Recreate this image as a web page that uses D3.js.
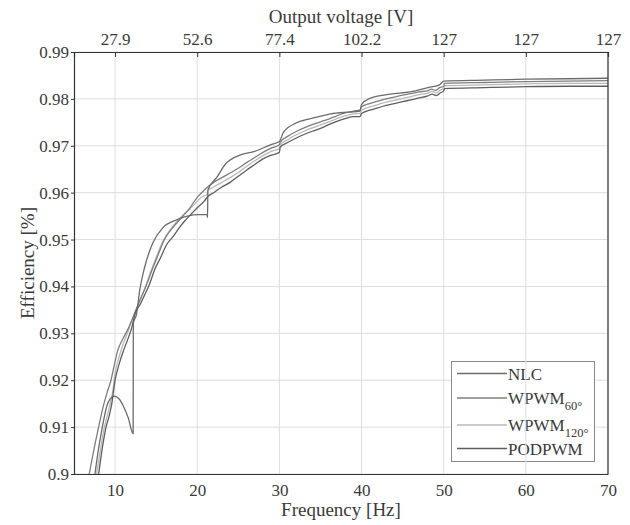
<!DOCTYPE html>
<html>
<head>
<meta charset="utf-8">
<script src="https://cdn.jsdelivr.net/npm/d3@7"></script>
<style>
    body { margin: 0; background: #fff; }
</style>
</head>
<body>
<svg id="chart" width="630" height="525"></svg>
<script>
const width = 630;
const height = 525;
const serif = '"Liberation Serif"';

// [frequency Hz, efficiency]
const nlc = [
    [7.55, 0.900], [8.0, 0.9055], [8.5, 0.9105], [9.0, 0.9145], [9.4, 0.9160], [9.9, 0.9166],
    [10.5, 0.9160], [11.0, 0.9145], [11.6, 0.9120], [12.2, 0.9086], [12.22, 0.9322], [12.6, 0.9340],
    [13.0, 0.9392], [13.6, 0.9441], [14.6, 0.9493], [15.8, 0.9525], [17.5, 0.9542], [18.8, 0.9550],
    [20.1, 0.9553], [21.2, 0.9553], [21.25, 0.9547], [21.3, 0.9606], [22.4, 0.9633], [23.4, 0.9660],
    [25.2, 0.9680], [27.0, 0.9688], [28.9, 0.9702], [30.0, 0.9709], [30.5, 0.9729], [32.1, 0.9749],
    [34.6, 0.9761], [36.2, 0.9768], [38.6, 0.9772], [39.8, 0.9774], [40.0, 0.9788], [41.0, 0.9801],
    [43.5, 0.9810], [45.9, 0.9815], [48.3, 0.9825], [49.5, 0.9830], [50.0, 0.9838], [55.0, 0.9840],
    [60.0, 0.9842], [65.0, 0.9843], [70.0, 0.9844]
];
const wpwm60 = [
    [6.85, 0.900], [7.4, 0.905], [8.0, 0.910], [8.5, 0.9140], [9.0, 0.9172], [9.5, 0.9200],
    [10.0, 0.9240], [10.3, 0.9262], [11.0, 0.9290], [11.6, 0.9310], [12.2, 0.9335], [13.0, 0.9370],
    [13.8, 0.9402], [14.5, 0.9435], [15.3, 0.9470], [16.0, 0.9500], [17.0, 0.9525], [18.0, 0.9545],
    [19.0, 0.9565], [20.0, 0.9590], [21.0, 0.9608], [22.0, 0.9622], [23.0, 0.9632], [24.0, 0.9642],
    [25.0, 0.9652], [26.0, 0.9664], [27.0, 0.9675], [28.0, 0.9686], [29.0, 0.9695], [30.0, 0.9702],
    [30.1, 0.9708], [31.0, 0.9720], [32.0, 0.9730], [33.0, 0.9738], [34.0, 0.9745], [35.0, 0.9751],
    [36.0, 0.9757], [37.0, 0.9764], [38.0, 0.9770], [39.0, 0.9774], [39.8, 0.9776], [40.0, 0.9783],
    [41.0, 0.9790], [42.0, 0.9795], [43.0, 0.9800], [44.0, 0.9804], [45.0, 0.9808], [46.0, 0.9811],
    [47.0, 0.9815], [48.0, 0.9817], [48.5, 0.9821], [49.0, 0.9818], [49.5, 0.9824], [50.0, 0.9827],
    [50.1, 0.9833], [55.0, 0.9835], [60.0, 0.9837], [65.0, 0.9838], [70.0, 0.9839]
];
const wpwm120 = [
    [7.75, 0.900], [8.2, 0.905], [8.7, 0.910], [9.2, 0.9135], [9.7, 0.9175], [10.0, 0.9215],
    [10.5, 0.9250], [11.0, 0.9278], [11.5, 0.9300], [12.0, 0.9325], [12.5, 0.9348], [13.0, 0.9368],
    [13.6, 0.9395], [14.2, 0.9425], [15.0, 0.9462], [15.8, 0.9495], [16.6, 0.9518], [17.5, 0.9538],
    [18.5, 0.9556], [19.5, 0.9572], [20.5, 0.9590], [21.2, 0.9597], [21.3, 0.9604], [22.0, 0.9612],
    [23.0, 0.9622], [24.0, 0.9632], [25.0, 0.9643], [26.0, 0.9656], [27.0, 0.9668], [28.0, 0.9679],
    [29.0, 0.9688], [30.0, 0.9694], [30.1, 0.9702], [31.0, 0.9713], [32.0, 0.9723], [33.0, 0.9731],
    [34.0, 0.9738], [35.0, 0.9744], [36.0, 0.9751], [37.0, 0.9758], [38.0, 0.9764], [39.0, 0.9768],
    [39.8, 0.9769], [40.0, 0.9776], [41.0, 0.9783], [42.0, 0.9788], [43.0, 0.9793], [44.0, 0.9797],
    [45.0, 0.9801], [46.0, 0.9805], [47.0, 0.9809], [48.0, 0.9812], [48.6, 0.9816], [49.1, 0.9813],
    [49.6, 0.9819], [50.0, 0.9822], [50.1, 0.9828], [55.0, 0.9830], [60.0, 0.9832], [65.0, 0.9833],
    [70.0, 0.9833]
];
const podpwm = [
    [8.0, 0.900], [8.4, 0.905], [8.9, 0.910], [9.3, 0.9125], [9.6, 0.9150], [10.0, 0.9200],
    [10.5, 0.9235], [11.0, 0.9262], [11.5, 0.9285], [12.0, 0.9310], [12.5, 0.9345], [13.0, 0.9360],
    [13.5, 0.9378], [14.2, 0.9405], [14.8, 0.9435], [15.5, 0.9460], [16.3, 0.9490], [17.0, 0.9505],
    [17.8, 0.9525], [18.5, 0.9540], [19.3, 0.9555], [20.0, 0.9568], [20.8, 0.9581], [21.3, 0.9592],
    [22.0, 0.9600], [23.0, 0.9612], [24.0, 0.9622], [25.0, 0.9635], [26.0, 0.9648],
    [27.0, 0.9660], [28.0, 0.9672], [29.0, 0.9680], [30.0, 0.9686], [30.1, 0.9697], [31.0, 0.9707],
    [32.0, 0.9716], [33.0, 0.9724], [34.0, 0.9731], [35.0, 0.9737], [36.0, 0.9745], [37.0, 0.9752],
    [38.0, 0.9758], [39.0, 0.9762], [39.8, 0.9762], [40.0, 0.9769], [41.0, 0.9776], [42.0, 0.9781],
    [43.0, 0.9786], [44.0, 0.9790], [45.0, 0.9794], [46.0, 0.9798], [47.0, 0.9802], [48.0, 0.9806],
    [48.6, 0.9810], [49.1, 0.9807], [49.6, 0.9813], [50.0, 0.9817], [50.1, 0.9822], [55.0, 0.9824],
    [60.0, 0.9826], [65.0, 0.9827], [70.0, 0.9827]
];

const freqTicks = [10, 20, 30, 40, 50, 60, 70];
const voltageLabels = ["27.9", "52.6", "77.4", "102.2", "127", "127", "127"];
const effTicks = [0.9, 0.91, 0.92, 0.93, 0.94, 0.95, 0.96, 0.97, 0.98, 0.99];

const seriesNames = ["NLC", "WPWM", "WPWM", "PODPWM"];
const seriesSubs = ["", "60°", "120°", ""];
const seriesColors = ["#6c6c6c", "#7e7e7e", "#b9b9b9", "#5e5e5e"];
const seriesData = [nlc, wpwm60, wpwm120, podpwm];

const svg = d3.select("#chart");

const x = d3.scaleLinear().domain([5, 70]).range([74, 608]);
const y = d3.scaleLinear().domain([0.9, 0.99]).range([474, 52]);

// horizontal grid
svg.append("g")
    .selectAll("line")
    .data(effTicks)
    .enter()
    .append("line")
    .attr("x1", x(5)).attr("x2", x(70))
    .attr("y1", d => y(d)).attr("y2", d => y(d))
    .attr("stroke", "#dedede")
    .attr("stroke-width", 1);

// legend box sits under the vertical grid lines, like in the original export
const legend = svg.append("g");
legend.append("rect")
    .attr("x", 451.5).attr("y", 361.5)
    .attr("width", 143).attr("height", 100)
    .attr("fill", "#fff")
    .attr("stroke", "#8a8a8a")
    .attr("stroke-width", 1);

// vertical grid
svg.append("g")
    .selectAll("line")
    .data(freqTicks)
    .enter()
    .append("line")
    .attr("x1", d => x(d)).attr("x2", d => x(d))
    .attr("y1", y(0.9)).attr("y2", y(0.99))
    .attr("stroke", "#dedede")
    .attr("stroke-width", 1);

svg.append("clipPath")
    .attr("id", "plotClip")
    .append("rect")
    .attr("x", x(5)).attr("y", y(0.99))
    .attr("width", x(70) - x(5)).attr("height", y(0.9) - y(0.99));

const line = d3.line()
    .x(d => x(d[0]))
    .y(d => y(d[1]))
    .curve(d3.curveMonotoneX);

// draw the curves; the light one first so darker ones stay on top
const drawOrder = [2, 1, 0, 3];
svg.append("g")
    .attr("clip-path", "url(#plotClip)")
    .selectAll("path")
    .data(drawOrder)
    .enter()
    .append("path")
    .attr("d", i => line(seriesData[i]))
    .attr("fill", "none")
    .attr("stroke", i => seriesColors[i])
    .attr("stroke-width", 1.3)
    .attr("stroke-linejoin", "round");

// axes
const bottomAxis = svg.append("g")
    .attr("transform", `translate(0,${y(0.9)})`)
    .call(d3.axisBottom(x).tickValues(freqTicks).tickSize(0).tickPadding(10));

const topAxis = svg.append("g")
    .attr("transform", `translate(0,${y(0.99)})`)
    .call(d3.axisTop(x).tickValues(freqTicks).tickSize(-5).tickPadding(7)
        .tickFormat((d, i) => voltageLabels[i]));

const leftAxis = svg.append("g")
    .attr("transform", `translate(${x(5)},0)`)
    .call(d3.axisLeft(y).tickValues(effTicks).tickSize(3).tickPadding(2)
        .tickFormat(d => String(+d.toFixed(2))));

svg.append("line")
    .attr("x1", x(70)).attr("x2", x(70))
    .attr("y1", y(0.99)).attr("y2", y(0.9))
    .attr("stroke", "#333").attr("stroke-width", 1.2);

[bottomAxis, topAxis, leftAxis].forEach(g => {
    g.attr("font-family", null);
    g.select(".domain").attr("stroke", "#333").attr("stroke-width", 1.2);
    g.selectAll(".tick line").attr("stroke", "#333");
    g.selectAll(".tick text")
        .style("font-family", serif)
        .attr("font-size", 17)
        .attr("fill", "#3a3a3a");
});
// hide the top tick at the right edge, it sits on the frame
topAxis.selectAll(".tick line").filter(d => d === 70).remove();

// axis titles
svg.append("text")
    .attr("x", (x(5) + x(70)) / 2).attr("y", 516)
    .attr("text-anchor", "middle")
    .attr("font-size", 19)
    .attr("fill", "#3a3a3a")
    .style("font-family", serif)
    .text("Frequency [Hz]");

svg.append("text")
    .attr("x", (x(5) + x(70)) / 2).attr("y", 23)
    .attr("text-anchor", "middle")
    .attr("font-size", 19)
    .attr("fill", "#3a3a3a")
    .style("font-family", serif)
    .text("Output voltage [V]");

svg.append("text")
    .attr("transform", `translate(34,${(y(0.9) + y(0.99)) / 2}) rotate(-90)`)
    .attr("text-anchor", "middle")
    .attr("font-size", 19)
    .attr("fill", "#3a3a3a")
    .style("font-family", serif)
    .text("Efficiency [%]");

// legend entries
const rowY = [373.5, 398, 425, 448.5];
seriesNames.forEach((name, i) => {
    legend.append("line")
        .attr("x1", 457).attr("x2", 507)
        .attr("y1", rowY[i]).attr("y2", rowY[i])
        .attr("stroke", seriesColors[i])
        .attr("stroke-width", 1.3);
    const t = legend.append("text")
        .attr("x", 508).attr("y", rowY[i] + 6)
        .attr("font-size", 17)
        .attr("fill", "#3a3a3a")
        .style("font-family", serif)
        .text(name);
    if (seriesSubs[i]) {
        t.append("tspan")
            .attr("dy", 6)
            .attr("font-size", 12.5)
            .text(seriesSubs[i]);
    }
});
</script>
</body>
</html>
